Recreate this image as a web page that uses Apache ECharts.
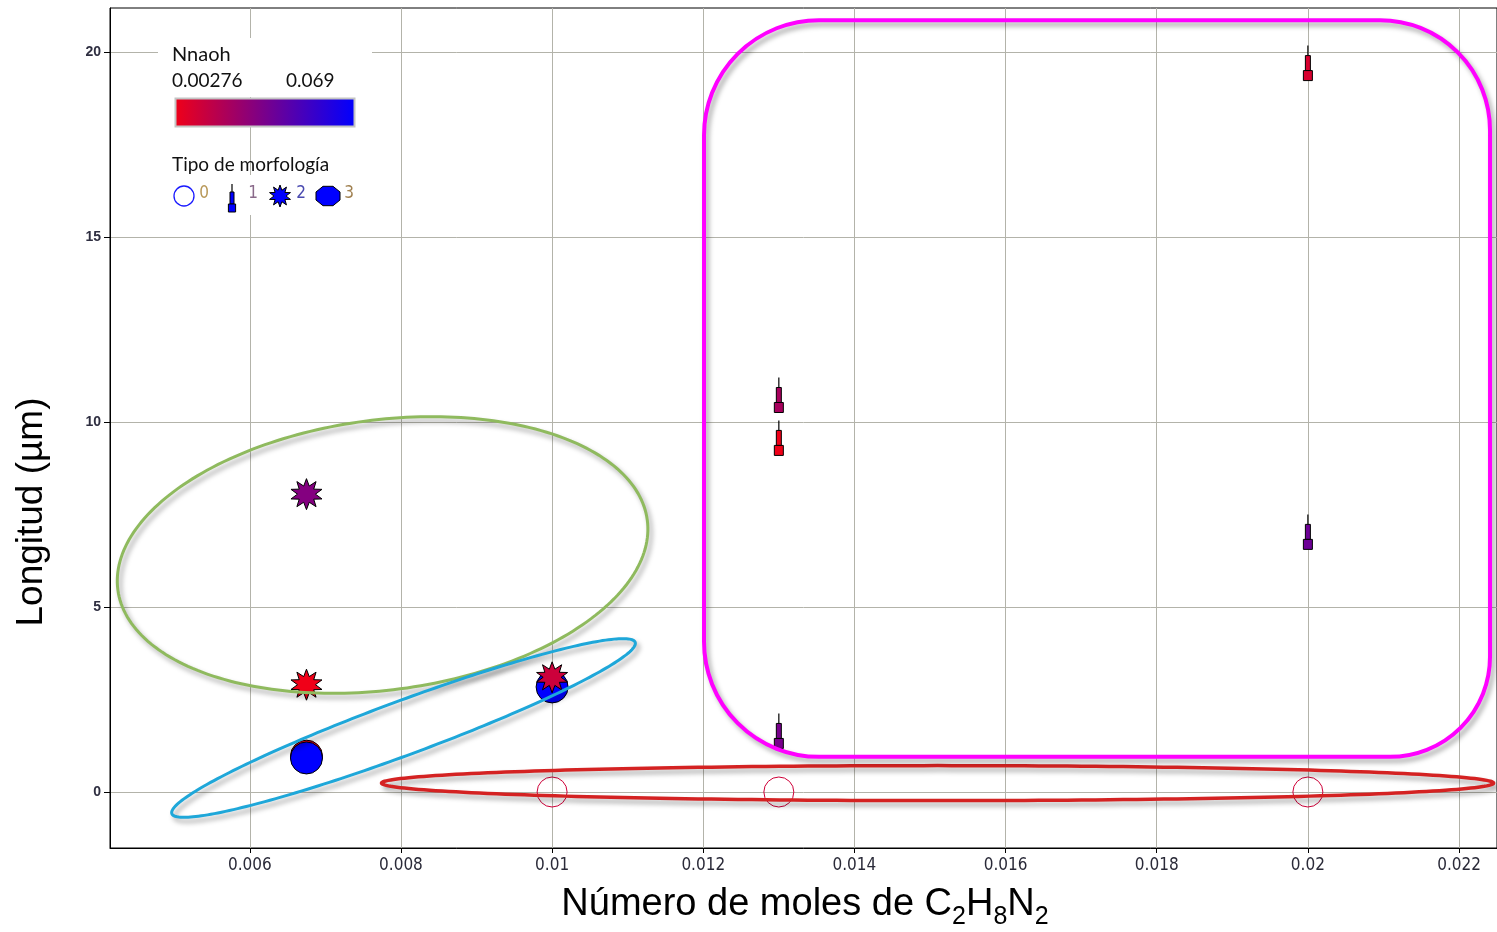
<!DOCTYPE html>
<html>
<head>
<meta charset="utf-8">
<script src="https://cdn.jsdelivr.net/npm/echarts@6/dist/echarts.min.js"></script>
<style>
  html, body { margin: 0; padding: 0; background: #ffffff; }
  #chart { width: 1497px; height: 932px; }
</style>
</head>
<body>
<div id="chart"></div>
<script>
// Points per morphology type: [moles C2H8N2, longitud (µm), Nnaoh]
const tipo0 = [[0.010, 0, 0.012], [0.013, 0, 0.012], [0.020, 0, 0.012]];
const tipo1 = [[0.013, 10.73, 0.0226], [0.013, 9.57, 0.00276], [0.013, 1.65, 0.036],
               [0.020, 19.7, 0.0094], [0.020, 7.03, 0.039]];
const tipo2 = [[0.00675, 8.05, 0.0326], [0.00675, 2.9, 0.00276], [0.010, 3.1, 0.0127]];
const tipo3 = [[0.00675, 0.97, 0.00276], [0.00675, 0.92, 0.069], [0.010, 2.84, 0.069]];

// Axis ticks and ranges
const xTicks = [0.006, 0.008, 0.010, 0.012, 0.014, 0.016, 0.018, 0.020, 0.022];
const yTicks = [0, 5, 10, 15, 20];
const xRange = [0.0041503, 0.0225023];
const yRange = [-1.5135, 21.189];

// Colour scale of Nnaoh
const nnaohRange = [0.00276, 0.069];
const nnaohLabels = ['0.00276', '0.069'];
const morphLabels = ['0', '1', '2', '3'];

// Group outlines, in data units (centre) plus pixel radii
const groupEllipses = [
  { center: [0.007757, 6.405], rx: 267, ry: 135, angle: 7.5, color: '#8fba5e', width: 3 },
  { center: [0.008034, 1.73], rx: 247, ry: 27, angle: 20.3, color: '#1ea7d9', width: 3 },
  { center: [0.01510, 0.24], rx: 556, ry: 17.5, angle: 0, color: '#d42222', width: 3.5 }
];
const groupBox = { from: [0.01201, 20.86], to: [0.02241, 0.95], r: [115, 110, 100, 115], color: '#ff00ff', width: 4 };

const C0 = [240, 0, 24], C1 = [0, 0, 255];
function nnaohColor(v) {
  const t = Math.max(0, Math.min(1, (v - nnaohRange[0]) / (nnaohRange[1] - nnaohRange[0])));
  return 'rgb(' + C0.map((c, i) => Math.round(c + (C1[i] - c) * t)).join(',') + ')';
}

// Star outline on a unit circle
function starPoints(n, inner) {
  const pts = [];
  for (let i = 0; i < 2 * n; i++) {
    const r = i % 2 ? inner : 1;
    const a = Math.PI * i / n - Math.PI / 2;
    pts.push([r * Math.cos(a), r * Math.sin(a)]);
  }
  return pts;
}
const STAR_PTS = starPoints(10, 0.55);
const STAR = 'path://' + STAR_PTS.map((p, i) => (i ? 'L' : 'M') + (50 + 50 * p[0]).toFixed(2) + ',' + (50 + 50 * p[1]).toFixed(2)).join('') + 'Z';

function octagonPoints() {
  const pts = [];
  for (let i = 0; i < 8; i++) {
    const a = Math.PI / 8 + i * Math.PI / 4;
    pts.push([Math.cos(a), Math.sin(a)]);
  }
  return pts;
}
function place(pts, cx, cy, sx, sy) { return pts.map(p => [cx + p[0] * sx, cy + p[1] * sy]); }

// Needle glyph (type 1): thin stem, narrow body, square foot
function needleShapes(cx, cy, color, k, z) {
  return [
    { type: 'line', z: z, shape: { x1: cx, y1: cy - 17.5 * k, x2: cx, y2: cy - 7.5 * k }, style: { stroke: '#000', lineWidth: 1.2 } },
    { type: 'rect', z: z, shape: { x: cx - 2.5 * k, y: cy - 7.5 * k, width: 5 * k, height: 15 * k }, style: { fill: color, stroke: '#000', lineWidth: 1 } },
    { type: 'rect', z: z, shape: { x: cx - 4.5 * k, y: cy + 7.5 * k, width: 9 * k, height: 10 * k }, style: { fill: color, stroke: '#000', lineWidth: 1 } }
  ];
}

const chart = echarts.init(document.getElementById('chart'), null, { renderer: 'canvas' });

const gridLine = { show: true, lineStyle: { color: '#b3b3aa', width: 1 } };

const legendFont = 'Lato, "Noto Sans", sans-serif';
const legendGraphics = [
  { type: 'rect', shape: { x: 158, y: 38, width: 214, height: 59 }, style: { fill: '#fff' }, z: 10 },
  { type: 'rect', shape: { x: 158, y: 175, width: 214, height: 40 }, style: { fill: '#fff' }, z: 10 },
  { type: 'text', x: 172, y: 55, style: { text: 'Nnaoh', font: '20px ' + legendFont, fill: '#111', verticalAlign: 'middle' }, z: 11 },
  { type: 'text', x: 172, y: 81, style: { text: nnaohLabels[0], font: '19px ' + legendFont, fill: '#111', verticalAlign: 'middle' }, z: 11 },
  { type: 'text', x: 286, y: 81, style: { text: nnaohLabels[1], font: '19px ' + legendFont, fill: '#111', verticalAlign: 'middle' }, z: 11 },
  { type: 'rect', shape: { x: 175.5, y: 98.5, width: 179, height: 28 },
    style: { fill: new echarts.graphic.LinearGradient(0, 0, 1, 0, [
      { offset: 0, color: nnaohColor(nnaohRange[0]) }, { offset: 1, color: nnaohColor(nnaohRange[1]) }]),
      stroke: '#c4c4c4', lineWidth: 2 }, z: 11 },
  { type: 'text', x: 172, y: 165, style: { text: 'Tipo de morfología', font: '19px ' + legendFont, fill: '#111', verticalAlign: 'middle' }, z: 11 },
  { type: 'circle', shape: { cx: 184, cy: 196, r: 10 }, style: { fill: 'none', stroke: '#1a1aff', lineWidth: 1.3 }, z: 11 },
  { type: 'group', z: 11, children: needleShapes(232, 198, '#0000ff', 0.8, 11) },
  { type: 'polygon', shape: { points: place(STAR_PTS, 280, 196, 11, 11) }, style: { fill: '#0000ff', stroke: '#000', lineWidth: 1 }, z: 11 },
  { type: 'polygon', shape: { points: place(octagonPoints(), 328, 196, 13, 10.5) }, style: { fill: '#0000ff', stroke: '#000', lineWidth: 1 }, z: 11 }
];
const digitColors = ['#b89858', '#8a6a8a', '#4a4ab0', '#a08050'];
const digitX = [204, 253, 301, 349];
morphLabels.forEach((t, i) => {
  legendGraphics.push({ type: 'text', x: digitX[i], y: 194,
    style: { text: t, font: '17px "Liberation Sans Narrow", "DejaVu Sans Condensed", sans-serif', fill: digitColors[i], align: 'center', verticalAlign: 'middle' }, z: 12 });
});

const titleGraphics = [
  { type: 'text', x: 32, y: 512, rotation: Math.PI / 2,
    style: { text: 'Longitud (µm)', font: '37px "Liberation Sans", Arial, sans-serif', fill: '#000', align: 'center', verticalAlign: 'middle' } },
  { type: 'text', x: 805, y: 905,
    style: { text: '{a|Número de moles de C}{s|2}{a|H}{s|8}{a|N}{s|2}', align: 'center', verticalAlign: 'middle',
      rich: {
        a: { fontSize: 38, fontFamily: '"Liberation Sans", Arial, sans-serif', fill: '#000' },
        s: { fontSize: 25, fontFamily: '"Liberation Sans", Arial, sans-serif', fill: '#000', padding: [24, 0, 0, 0] }
      } } }
];

chart.setOption({
  animation: false,
  backgroundColor: '#ffffff',
  grid: { left: 110, top: 8, right: -2, bottom: 84, show: true, borderColor: '#000', borderWidth: 1, backgroundColor: 'transparent' },
  xAxis: {
    type: 'value', min: xRange[0], max: xRange[1], splitNumber: 9,
    axisLine: { show: true, onZero: false, lineStyle: { color: '#000', width: 1 } },
    axisTick: { show: true, length: 5, lineStyle: { color: '#000' }, customValues: xTicks },
    axisLabel: { customValues: xTicks, margin: 9, fontSize: 17, color: '#2a2a38',
      fontFamily: '"Liberation Sans Narrow", "DejaVu Sans Condensed", sans-serif',
      formatter: v => String(+(+v).toFixed(3)) },
    splitLine: gridLine
  },
  yAxis: {
    type: 'value', min: yRange[0], max: yRange[1], splitNumber: 5,
    axisLine: { show: true, onZero: false, lineStyle: { color: '#000', width: 1 } },
    axisTick: { show: true, length: 6, lineStyle: { color: '#000' }, customValues: yTicks },
    axisLabel: { customValues: yTicks, margin: 9, fontSize: 14, fontWeight: 'bold', color: '#2e2e40',
      fontFamily: '"Liberation Sans", Arial, sans-serif' },
    splitLine: gridLine
  },
  series: [
    { name: '0', type: 'scatter', symbol: 'circle', symbolSize: 30, z: 2,
      data: tipo0.map(d => ({ value: d, itemStyle: { color: 'rgba(0,0,0,0)', borderColor: nnaohColor(d[2]), borderWidth: 1, opacity: 1 } })) },
    { name: '3', type: 'scatter', symbol: 'circle', symbolSize: 32, z: 3,
      data: tipo3.map(d => ({ value: d, itemStyle: { color: nnaohColor(d[2]), borderColor: '#000', borderWidth: 1, opacity: 1 } })) },
    { name: '2', type: 'scatter', symbol: STAR, symbolSize: 31, z: 4,
      data: tipo2.map(d => ({ value: d, itemStyle: { color: nnaohColor(d[2]), borderColor: '#000', borderWidth: 1, opacity: 1 } })) },
    { name: '1', type: 'custom', z: 5, encode: { x: 0, y: 1 }, data: tipo1,
      renderItem: (params, api) => {
        const p = api.coord([api.value(0), api.value(1)]);
        return { type: 'group', children: needleShapes(p[0], p[1], nnaohColor(api.value(2)), 1, 0) };
      } }
  ],
  graphic: legendGraphics.concat(titleGraphics)
});

// Group outlines are placed through the grid's coordinate system
const shadow = { shadowBlur: 5, shadowOffsetX: 3, shadowOffsetY: 4, shadowColor: 'rgba(0,0,0,0.35)' };
const outlineGraphics = groupEllipses.map(e => {
  const c = chart.convertToPixel({ gridIndex: 0 }, e.center);
  const a = -e.angle * Math.PI / 180;
  const pts = [];
  for (let i = 0; i < 240; i++) {
    const t = 2 * Math.PI * i / 240;
    const ex = e.rx * Math.cos(t), ey = e.ry * Math.sin(t);
    pts.push([c[0] + ex * Math.cos(a) - ey * Math.sin(a), c[1] + ex * Math.sin(a) + ey * Math.cos(a)]);
  }
  return { type: 'polygon', shape: { points: pts }, z: 50,
    style: Object.assign({ fill: 'none', stroke: e.color, lineWidth: e.width }, shadow) };
});
const b0 = chart.convertToPixel({ gridIndex: 0 }, groupBox.from);
const b1 = chart.convertToPixel({ gridIndex: 0 }, groupBox.to);
outlineGraphics.push({ type: 'rect', z: 50,
  shape: { x: b0[0], y: b0[1], width: b1[0] - b0[0], height: b1[1] - b0[1], r: groupBox.r },
  style: Object.assign({ fill: 'none', stroke: groupBox.color, lineWidth: groupBox.width }, shadow) });

chart.setOption({ graphic: legendGraphics.concat(titleGraphics, outlineGraphics) });
</script>
</body>
</html>
